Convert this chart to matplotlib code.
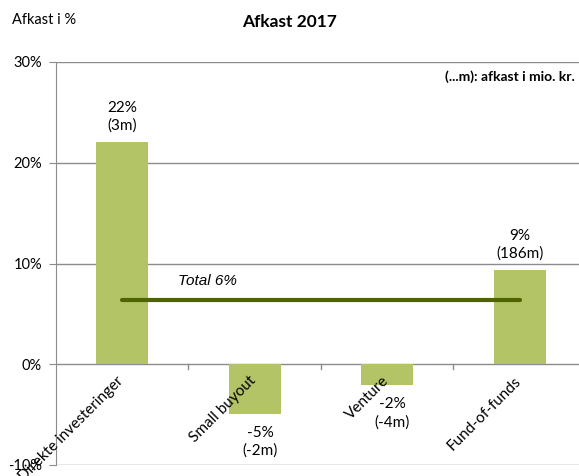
import matplotlib
matplotlib.use("Agg")
import matplotlib.pyplot as plt
from matplotlib.ticker import FuncFormatter

categories = ["Direkte investeringer", "Small buyout", "Venture", "Fund-of-funds"]
returns_pct = [22.1, -4.9, -2.1, 9.4]
value_labels = ["22%\n(3m)", "-5%\n(-2m)", "-2%\n(-4m)", "9%\n(186m)"]
total_pct = 6.4
total_label = "Total 6%"
y_ticks = [-10, 0, 10, 20, 30]

FONT = ["Lato", "DejaVu Sans"]
plt.rcParams["font.family"] = FONT

fig = plt.figure(figsize=(5.79, 4.76), dpi=100)
ax = fig.add_axes([56/579, 1-465/476, 530/579, (465-62)/476])

x = list(range(len(categories)))
ax.bar(x, returns_pct, width=0.39, color="#B2C466", zorder=3)
ax.plot([x[0], x[-1]], [total_pct, total_pct], color="#4F6300", lw=3,
        solid_capstyle="round", zorder=4)
ax.text(0.42, total_pct + 1.2, total_label, fontsize=11, style="italic",
        family=["Liberation Sans", "DejaVu Sans"], va="bottom", ha="left")

ax.set_xlim(-0.5, len(categories) - 0.5)
ax.set_ylim(-10, 30)
ax.set_yticks(y_ticks)
ax.yaxis.set_major_formatter(FuncFormatter(lambda v, p: f"{int(v)}%"))
ax.grid(axis="y", color="#8C8C8C", lw=1, zorder=0)
ax.set_axisbelow(True)

for s in ["top", "right", "bottom"]:
    ax.spines[s].set_visible(False)
ax.spines["left"].set_color("#8C8C8C")
ax.tick_params(axis="y", length=5, color="#8C8C8C", labelsize=10.5, pad=5)

# x-axis tick marks at category boundaries on the zero line
for b in [0.5, 1.5, 2.5]:
    ax.plot([b, b], [0, -0.5], color="#8C8C8C", lw=1, zorder=2, clip_on=False)
ax.set_xticks([])

# rotated category labels
for xi, c in zip(x, categories):
    ax.annotate(c, xy=(xi, 0), xytext=(3, -7), textcoords="offset points",
                rotation=45, ha="right", va="top", fontsize=11,
                rotation_mode="default", zorder=5)

# value labels
for xi, v, lab in zip(x, returns_pct, value_labels):
    if v >= 0:
        ax.text(xi, v + 0.9, lab, ha="center", va="bottom", fontsize=11,
                linespacing=1.3)
    else:
        ax.text(xi + 0.04, v - 1.2, lab, ha="center", va="top", fontsize=11,
                linespacing=1.3)

fig.text(0.5, 1-22/476, "Afkast 2017", ha="center", va="center",
         fontsize=12.5, fontweight="bold")
fig.text(12/579, 1-20/476, "Afkast i %", ha="left", va="center", fontsize=10.5)
fig.text(575/579, 1-77/476, "(...m): afkast i mio. kr.", ha="right", va="center",
         fontsize=10, fontweight="bold")

fig.savefig("out.png", dpi=100)
